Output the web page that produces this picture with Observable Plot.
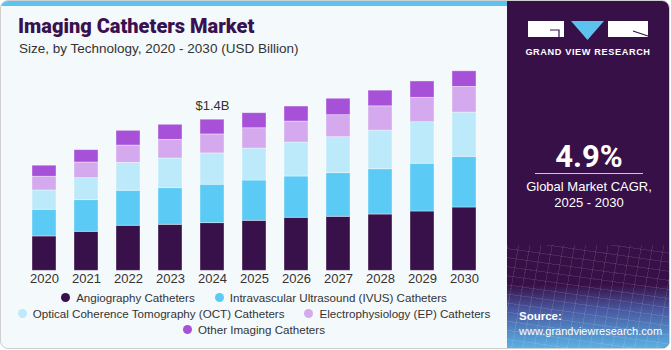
<!DOCTYPE html>
<html>
<head>
<meta charset="utf-8">
<script src="https://cdn.jsdelivr.net/npm/d3@7"></script>
<script src="https://cdn.jsdelivr.net/npm/@observablehq/plot@0.6"></script>
<style>
  html, body { margin: 0; padding: 0; background: #ffffff; }
  #root { position: relative; width: 671px; height: 350px; overflow: hidden; font-family: "Liberation Sans", Arial, sans-serif; }
  #card { position: absolute; left: 0; top: 0; width: 668px; height: 347px; border: 1.5px solid #cfcfcf; border-radius: 8px; background: #F4F9FC; overflow: hidden; }
  #stripe { position: absolute; left: 0; top: 0; width: 506px; height: 5px; background: #5BC3EE; }
  #title { position: absolute; left: 17px; top: 13px; font-family: "Roboto", "Liberation Sans", sans-serif; font-weight: 900; font-size: 20px; color: #3A1150; letter-spacing: 0px; white-space: nowrap; }
  #subtitle { position: absolute; left: 18px; top: 40px; font-size: 13.5px; color: #333; white-space: nowrap; }
  #chart { position: absolute; left: 0; top: 0; }
  #legend { position: absolute; left: 0; top: 288px; width: 506px; font-size: 11.6px; color: #333; }
  .lrow { display: flex; justify-content: center; gap: 20px; height: 16px; align-items: center; }
  .litem { display: flex; align-items: center; white-space: nowrap; }
  .ldot { width: 9px; height: 9px; border-radius: 50%; margin-right: 6px; }
  #panel { position: absolute; left: 506px; top: 0; width: 164px; height: 348px; background: #371047; overflow: hidden; }
  #grad { position: absolute; left: 0; top: 244px; width: 100%; height: 104px;
    background:
      repeating-linear-gradient(100deg, rgba(255,255,255,0.10) 0 1px, transparent 1px 11px),
      repeating-linear-gradient(8deg, rgba(255,255,255,0.10) 0 1px, transparent 1px 9px),
      linear-gradient(180deg, rgba(55,16,71,1) 0%, rgba(55,16,71,1) 38%, #48579F 62%, #5BB3E6 100%); }
  #cagr { position: absolute; left: 0; width: 164px; top: 137px; text-align: center; color: #fff; font-family: "Roboto", "Liberation Sans", sans-serif; font-weight: 700; font-size: 31px; }
  #rule { position: absolute; left: 28px; top: 172px; width: 108px; height: 1px; background: #cfc6d6; }
  #cagrtxt { position: absolute; left: 0; width: 164px; top: 178px; text-align: center; color: #fff; font-size: 13px; line-height: 15.5px; }
  #src { position: absolute; left: 12px; top: 308px; color: #fff; font-size: 11px; line-height: 14.5px; }
  #src b { font-weight: 700; font-size: 11.5px; }
</style>
</head>
<body>
<div id="root">
  <div id="card">
    <div id="stripe"></div>
    <div id="title">Imaging Catheters Market</div>
    <div id="subtitle">Size, by Technology, 2020 - 2030 (USD Billion)</div>
    <div id="chart"></div>
    <div id="legend"></div>
    <div id="panel">
      <div id="grad"></div>
      <svg id="logo" width="164" height="60" style="position:absolute;left:0;top:0">
        <rect x="21" y="20" width="36" height="16" fill="#ffffff"/>
        <path d="M43 29 L52 29 L52 36" stroke="#371047" stroke-width="1.2" fill="none"/>
        <polygon points="64,20 97,20 80.5,39" fill="#5BC3EE"/>
        <rect x="101" y="20" width="40" height="16" fill="#ffffff"/>
        <path d="M126 30 L141 35" stroke="#371047" stroke-width="1.2" fill="none"/>
        <text x="81" y="54" text-anchor="middle" fill="#ffffff" font-family="Liberation Sans, Arial, sans-serif" font-weight="700" font-size="9.2" letter-spacing="0.6">GRAND VIEW RESEARCH</text>
      </svg>
      <div id="cagr">4.9%</div>
      <div id="rule"></div>
      <div id="cagrtxt">Global Market CAGR,<br>2025 - 2030</div>
      <div id="src"><b>Source:</b><br>www.grandviewresearch.com</div>
    </div>
  </div>
</div>
<script>
const years = ["2020","2021","2022","2023","2024","2025","2026","2027","2028","2029","2030"];
const segments = [
  "Angiography Catheters",
  "Intravascular Ultrasound (IVUS) Catheters",
  "Optical Coherence Tomography (OCT) Catheters",
  "Electrophysiology (EP) Catheters",
  "Other Imaging Catheters"
];
const colors = ["#38104A", "#5BCBF5", "#BDEAFA", "#D5A9EE", "#A651D8"];
const angiography = [0.318, 0.361, 0.417, 0.426, 0.441, 0.463, 0.491, 0.500, 0.521, 0.549, 0.586];
const ivus        = [0.247, 0.293, 0.324, 0.339, 0.356, 0.373, 0.382, 0.404, 0.419, 0.442, 0.469];
const oct         = [0.179, 0.204, 0.259, 0.275, 0.290, 0.296, 0.315, 0.333, 0.358, 0.385, 0.410];
const ep          = [0.127, 0.145, 0.160, 0.173, 0.176, 0.188, 0.194, 0.204, 0.225, 0.226, 0.238];
const other       = [0.102, 0.114, 0.136, 0.139, 0.136, 0.139, 0.139, 0.152, 0.145, 0.151, 0.144];
const annotationYear = "2024";
const annotationLabel = "$1.4B";
const legendRows = [[0, 1], [2, 3], [4]];

const series = [angiography, ivus, oct, ep, other];
const data = years.flatMap((yr, i) => segments.map((s, j) => ({year: yr, segment: s, value: series[j][i]})));
const ai = years.indexOf(annotationYear);
const annot = [{year: annotationYear, total: d3.sum(series, s => s[ai]), label: annotationLabel}];

const chart = Plot.plot({
  width: 506,
  height: 290,
  marginLeft: 22,
  marginRight: 22,
  marginTop: 60,
  marginBottom: 20.7,
  style: {background: "transparent", fontFamily: "Liberation Sans, Arial, sans-serif", fontSize: "13px", color: "#333"},
  x: {domain: years, paddingInner: 0.43, paddingOuter: 0.215, label: null, tickSize: 0, tickPadding: 3},
  y: {domain: [0, 1.938], axis: null},
  color: {domain: segments, range: colors},
  marks: [
    Plot.barY(data, {x: "year", y: "value", fill: "segment", order: segments, stroke: "#ffffff", strokeOpacity: 0.45, strokeWidth: 0.8}),
    Plot.text(annot, {x: "year", y: "total", text: "label", dy: -14, fontSize: 13, fill: "#333"})
  ]
});
document.getElementById("chart").appendChild(chart);

const legend = document.getElementById("legend");
for (const row of legendRows) {
  const r = document.createElement("div");
  r.className = "lrow";
  for (const j of row) {
    const it = document.createElement("div");
    it.className = "litem";
    const dot = document.createElement("span");
    dot.className = "ldot";
    dot.style.background = colors[j];
    const t = document.createElement("span");
    t.textContent = segments[j];
    it.appendChild(dot); it.appendChild(t);
    r.appendChild(it);
  }
  legend.appendChild(r);
}
</script>
</body>
</html>
